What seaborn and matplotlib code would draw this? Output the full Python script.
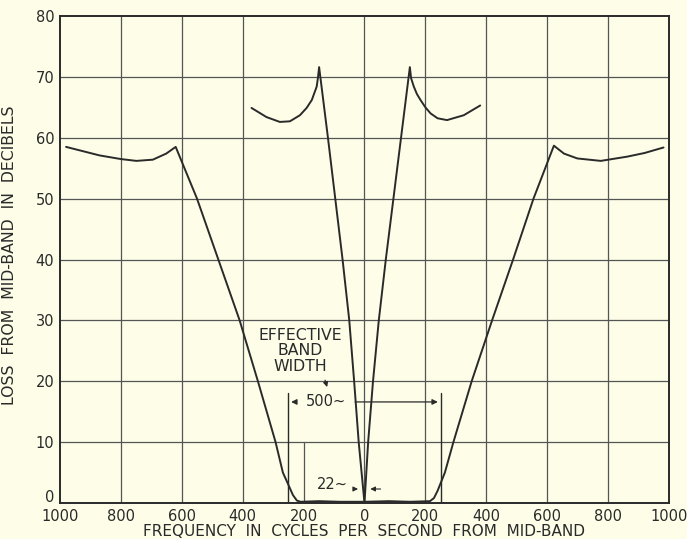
import numpy as np
import pandas as pd
import matplotlib
matplotlib.use("Agg")
import matplotlib.pyplot as plt
import matplotlib.transforms as mtransforms
import seaborn as sns

# outer curve (wide filter)
outer_x = [-980, -870, -800, -749, -695, -651, -620,
           -550, -480, -410, -350, -292, -268, -250, -235, -222, -210,
           -150, -80, 0, 80, 150, 215, 228, 240, 264, 292,
           352, 419, 488, 555, 622,
           655, 699, 776, 863, 920, 982]
outer_y = [58.5, 57.1, 56.5, 56.2, 56.4, 57.4, 58.5,
           50, 40, 30, 20, 10, 5, 3, 1.3, 0.4, 0.2,
           0.3, 0.2, 0.2, 0.3, 0.2, 0.3, 0.8, 2, 5, 10,
           20, 30, 40, 50, 58.7,
           57.4, 56.6, 56.2, 56.9, 57.5, 58.4]

# inner curve (narrow filter)
inner_x = [-371, -322, -278, -245, -212, -190, -173, -165, -157, -153, -149,
           -120, -72, -50, -34, -19, 0,
           12, 28, 47, 70, 120, 149,
           153, 162, 172, 184, 200, 217, 240, 271, 326, 380]
inner_y = [64.9, 63.4, 62.6, 62.7, 63.7, 64.9, 66.2, 67.3, 68.4, 69.8, 71.6,
           60, 40, 30, 20, 10, 0,
           10, 20, 30, 40, 60, 71.6,
           69.8, 68.4, 67.2, 66.2, 65.0, 64.0, 63.2, 62.9, 63.7, 65.3]

x_ticks = [-1000, -800, -600, -400, -200, 0, 200, 400, 600, 800, 1000]
x_tick_labels = ["1000", "800", "600", "400", "200", "0", "200", "400", "600", "800", "1000"]
y_ticks = [0, 10, 20, 30, 40, 50, 60, 70, 80]

bg = "#fdfde8"
ink = "#2a2a2a"

sns.set_theme(style="white", rc={"axes.facecolor": bg, "figure.facecolor": bg})
plt.rcParams['font.family'] = ['DejaVu Sans']

fig = plt.figure(figsize=(6.87, 5.39), dpi=100)
ax = fig.add_axes([0.0873, 0.0668, 0.8865, 0.9035])

# grid drawn by hand (the -200 line stops at 10 dB under the note)
for xv in x_ticks[1:-1]:
    if xv == -200:
        ax.plot([xv, xv], [0, 10], color="#555555", lw=0.9, zorder=1)
    else:
        ax.axvline(xv, color="#555555", lw=0.9, zorder=1)
for yv in y_ticks[1:-1]:
    ax.axhline(yv, color="#555555", lw=0.9, zorder=1)

outer = pd.DataFrame({"f": outer_x, "loss": outer_y})
inner = pd.DataFrame({"f": inner_x, "loss": inner_y})
sns.lineplot(data=outer, x="f", y="loss", sort=False, estimator=None, color=ink, lw=1.4, ax=ax, zorder=3)
sns.lineplot(data=inner, x="f", y="loss", sort=False, estimator=None, color=ink, lw=1.4, ax=ax, zorder=3)

# effective band width markers
ax.plot([-250, -250], [0, 18], color=ink, lw=1.0)
ax.plot([250, 250], [0, 18], color=ink, lw=1.0)
ax.annotate("", xy=(-250, 16.6), xytext=(-215, 16.6),
            arrowprops=dict(arrowstyle="-|>", color=ink, lw=0.9, mutation_scale=8))
ax.annotate("", xy=(250, 16.6), xytext=(-40, 16.6),
            arrowprops=dict(arrowstyle="-|>", color=ink, lw=0.9, mutation_scale=8))
ax.text(-128, 16.6, "500~", ha="center", va="center", fontsize=10.5, color=ink,
        bbox=dict(boxstyle="square,pad=0.1", fc=bg, ec="none"))
ax.text(-210, 25.0, "EFFECTIVE\nBAND\nWIDTH", ha="center", va="center", fontsize=11.3,
        color=ink, linespacing=1.05)
ax.annotate("", xy=(-120, 18.6), xytext=(-132, 20.6),
            arrowprops=dict(arrowstyle="-|>", color=ink, lw=0.9, mutation_scale=7))

# 22 cycle width markers
ax.annotate("", xy=(-12, 2.3), xytext=(-45, 2.3),
            arrowprops=dict(arrowstyle="-|>", color=ink, lw=0.8, mutation_scale=7))
ax.annotate("", xy=(10, 2.3), xytext=(62, 2.3),
            arrowprops=dict(arrowstyle="-|>", color=ink, lw=0.8, mutation_scale=7))
ax.text(-56, 3.0, "22~", ha="right", va="center", fontsize=10.5, color=ink)

ax.set_xlim(-1000, 1000)
ax.set_ylim(0, 80)
ax.set_xticks(x_ticks)
ax.set_xticklabels(x_tick_labels)
ax.set_yticks(y_ticks)
ax.tick_params(axis="both", length=0, labelsize=10.5, colors=ink)
ax.tick_params(axis="x", pad=4.5)
ax.tick_params(axis="y", pad=4)
# lift the "0" label a bit, as in the original
lift = mtransforms.ScaledTranslation(0, 5 / 72, fig.dpi_scale_trans)
lbl0 = ax.get_yticklabels()[0]
lbl0.set_transform(lbl0.get_transform() + lift)

ax.set_xlabel("FREQUENCY  IN  CYCLES  PER  SECOND  FROM  MID-BAND", fontsize=11,
              color=ink, labelpad=0)
ax.set_ylabel("LOSS  FROM  MID-BAND  IN  DECIBELS", fontsize=11.3, color=ink)
ax.yaxis.set_label_coords(-0.07, 0.509)
for s in ax.spines.values():
    s.set_color(ink)
    s.set_linewidth(1.4)

fig.savefig("out.png", dpi=100, facecolor=bg)
